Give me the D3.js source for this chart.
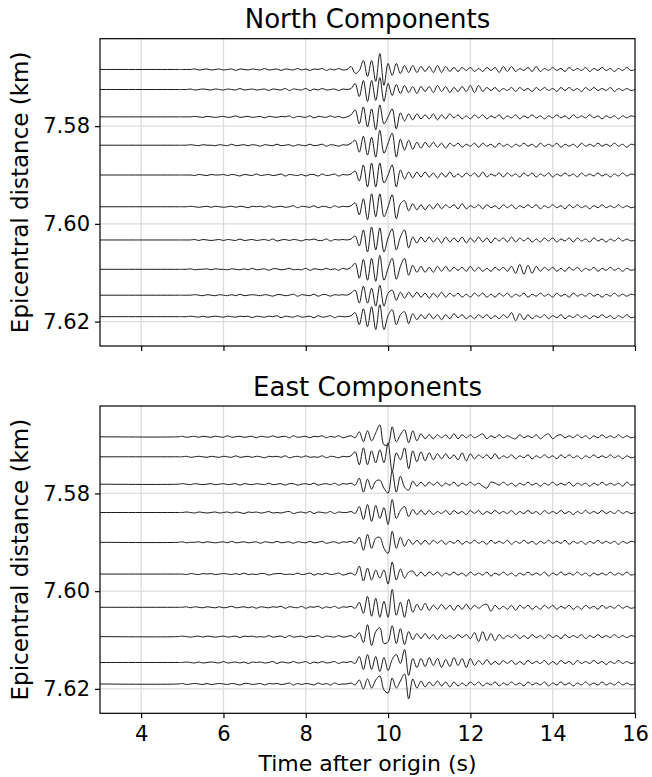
<!DOCTYPE html>
<html>
<head>
<meta charset="utf-8">
<script src="https://cdn.jsdelivr.net/npm/d3@7"></script>
<style>
  body { margin: 0; background: #fff; }
  svg { font-family: "DejaVu Sans", sans-serif; }
</style>
</head>
<body>
<svg id="chart"></svg>
<script>
const width = 652;
const height = 777;

// epicentral distance of each station (km), same for both components
const distances = [7.5684, 7.5725, 7.5781, 7.5839, 7.5900, 7.5965, 7.6033, 7.6093, 7.6146, 7.6190];
const xTicks = [4, 6, 8, 10, 12, 14, 16];
const yTicks = [7.58, 7.60, 7.62];

// traces are flat (zero) at the lead times, then sampled every sampleStep seconds
const leadTimes = [3.0, 4.9];
const sampleStart = 5.0;
const sampleStep = 0.1;

// amplitudes, one row per second (5 s .. 16 s)
const northTraces = [
  [0, 0, 0, 0.5, -0.5, 0, 0.5, -0.5, 0, 0.5,
   -0.5, 0, 0.5, -1, 0.5, 0, -0.5, 0.5, 0, -0.5,
   1, -0.5, 0, 0.5, -1, 0.5, 0, -0.5, 1, -0.5,
   0.5, -1, 0.5, 0, 1, -1, 0.5, -0.5, 1, -0.5,
   0, 3, -4, -1, 9, -7, 9, -12, 16, -16,
   6, -6, 6, -4, 4, -3, 4, -3, 3, -2,
   3, -3, 4, -3, 3, -2, 2, -2, 2, -1,
   2, -2, 1, -2, 2, -1, 2, -3, 3, -2,
   3, -2, 1, -1, 2, -2, 3, -2, 1, -1,
   2, -1, 1, -2, 2, -1, 1, -1, 2, -2,
   1, -1, 2, -1, 1, -2, 1, -1, 2, -1,
   0],
  [0, 0, 0.5, -0.5, 0, 0.5, 0, -0.5, 0.5, 0,
   -0.5, 0.5, 0, -0.5, 1, -0.5, 0, 0.5, -0.5, 0,
   0.5, -1, 0.5, 0, -0.5, 1, -1, 0.5, 0, -0.5,
   1, -1, 0.5, -0.5, 1, -0.5, 0, 0.5, -1, 0.5,
   0, 1, 6, -7, 9, -12, 9, -11, 12, -12,
   6, -6, 5, -4, 4, -3, 3, -4, 3, -2,
   3, -3, 4, -2, 3, -3, 2, -2, 3, -2,
   4, -3, 4, -2, 2, -1, 2, -2, 1, -1,
   2, -2, 2, -1, 1, -2, 2, -1, 2, -1,
   1, -2, 2, -1, 2, -1, 1, -2, 2, -1,
   2, -1, 1, -1, 2, -2, 1, -1, 1, -1,
   0],
  [0, 0, 0, 0.5, 0, -0.5, 0.5, 0, -0.5, 0,
   0.5, -0.5, 0, 1, -0.5, 0, 0.5, -0.5, 0, 0.5,
   -1, 0.5, 0, -0.5, 0.5, 0, 1, -1, 0.5, 0,
   -0.5, 1, -1, 0.5, 0, -0.5, 1, -0.5, 0.5, -1,
   0, 2, 7, -7, 10, -10, 8, -13, 12, -7,
   0, 8, -12, 4, -4, 3, -3, 3, -2, 2,
   -2, 3, -3, 2, -2, 3, -1, 2, -2, 1,
   -2, 2, -1, 2, -2, 1, -1, 2, -2, 1,
   -1, 2, -2, 1, -1, 2, -1, 1, -2, 1,
   -1, 2, -1, 1, -2, 2, -1, 1, -1, 2,
   -1, 1, -2, 1, -1, 1, -2, 1, -1, 1,
   0],
  [0, 0, 0.5, 0, -0.5, 0.5, 0, 0, -0.5, 0.5,
   0, -0.5, 1, -0.5, 0, 0.5, -0.5, 0.5, 0, -1,
   0.5, 0, -0.5, 1, -0.5, 0, 0.5, -1, 0.5, 0,
   -0.5, 1, -0.5, 0, 1, -1, 0.5, 0, -1, 0.5,
   0, 2, 5, -7, 9, -10, 8, -12, 15, -8,
   2, 12, -12, 6, -5, 5, -4, 3, -3, 3,
   -2, 3, -2, 2, -3, 2, -1, 2, -2, 1,
   -1, 2, -2, 2, -1, 1, -2, 2, -1, 1,
   -2, 1, -1, 2, -1, 1, -2, 2, -1, 1,
   -1, 2, -2, 1, -1, 1, -2, 2, -1, 1,
   -1, 2, -1, 1, -1, 2, -1, 1, -2, 1,
   0],
  [0, 0, 0, -0.5, 0.5, 0, -0.5, 0.5, 0, 0,
   0.5, -0.5, 0.5, 0, -1, 0.5, 0, -0.5, 1, -0.5,
   0, 0.5, -0.5, 0, 1, -1, 0.5, 0, -0.5, 0.5,
   -1, 0.5, 0.5, -1, 1, -0.5, 0, 1, -1, 0.5,
   0, 1, 4, -6, 10, -12, 12, -12, 12, -8,
   0, 10, -12, 5, -4, 3, -3, 3, -2, 3,
   -2, 2, -3, 2, -2, 3, -2, 1, -2, 2,
   -1, 2, -2, 3, -2, 1, -1, 2, -2, 2,
   -1, 1, -2, 2, -1, 2, -2, 1, -1, 2,
   -2, 1, -1, 2, -1, 1, -2, 2, -1, 1,
   -1, 2, -1, 1, -2, 1, -1, 2, -1, 1,
   0],
  [0, 0, 0.5, 0, -0.5, 0, 0.5, -0.5, 0.5, 0,
   -0.5, 0, 0.5, -0.5, 0.5, 0, -1, 0.5, 0, 0.5,
   -0.5, 1, -0.5, 0, 0.5, -0.5, 0, 1, -1, 0.5,
   0, -0.5, 1, -1, 0.5, 0, -1, 1, -0.5, 0.5,
   0, 1, 4, -8, 8, -13, 13, -10, 13, -10,
   0, 12, -12, 3, 6, -4, 3, -3, 2, -3,
   2, -2, 3, -2, 2, -1, 2, -2, 3, -2,
   1, -1, 2, -2, 2, -1, 1, -2, 2, -1,
   2, -2, 1, -1, 2, -1, 2, -2, 1, -1,
   2, -1, 1, -2, 2, -1, 2, -1, 1, -2,
   1, -1, 2, -1, 1, -1, 2, -1, 1, -1,
   0],
  [0, 0, 0, 0.5, -0.5, 0.5, 0, -0.5, 0, 0.5,
   -0.5, 0.5, 0, -0.5, 1, -0.5, 0, 0.5, -0.5, 0,
   0.5, -0.5, 1, -1, 0, 0.5, -0.5, 0.5, 0, -1,
   0.5, 0, 1, -0.5, -0.5, 1, -1, 0.5, 0, 0.5,
   0, 1, 4, -6, 10, -12, 13, -10, 12, -12,
   2, 11, -10, 3, 10, -8, 3, -3, 3, -2,
   3, -2, 2, -3, 3, -2, 2, -2, 3, -3,
   2, -2, 3, -2, 2, -3, 2, -1, 2, -2,
   3, -2, 2, -1, 2, -2, 1, -2, 2, -1,
   2, -2, 1, -1, 2, -2, 2, -1, 1, -2,
   2, -1, 1, -2, 1, -1, 2, -1, 1, -1,
   0],
  [0, 0, 0.5, -0.5, 0, 0, 0.5, -0.5, 0.5, 0,
   0, -0.5, 0.5, 0, -0.5, 0.5, -0.5, 1, -0.5, 0,
   0.5, -1, 0.5, 0.5, -0.5, 0, 1, -0.5, 0, -0.5,
   1, -1, 0.5, 0, -0.5, 1, -0.5, 0.5, -1, 1,
   0, 2, 6, -9, 10, -11, 11, -12, 14, -11,
   1, 11, -10, 3, 11, -6, 4, -3, 3, -3,
   2, -3, 3, -2, 3, -2, 2, -1, 2, -2,
   3, -2, 2, -2, 1, -2, 2, -1, 2, -2,
   3, -4, 5, -5, 4, -4, 3, -2, 2, -1,
   2, -2, 1, -2, 2, -1, 2, -2, 1, -1,
   2, -2, 1, -1, 2, -1, 1, -2, 1, -1,
   0],
  [0, 0, 0, 0.5, 0, -0.5, 0.5, 0, -0.5, 0.5,
   0, -0.5, 0.5, -0.5, 1, -0.5, 0, 0.5, 0, -0.5,
   0.5, 0, -1, 0.5, 0.5, -0.5, 0, 1, -1, 0.5,
   0, -0.5, 1, -1, 0.5, 0.5, -1, 0.5, 0, 0.5,
   0, 2, 5, -8, 9, -8, 7, -11, 10, -11,
   2, 5, -5, 3, -3, 3, -2, 3, -2, 2,
   -3, 2, -2, 3, -2, 2, -1, 2, -2, 1,
   -2, 2, -1, 2, -2, 1, -2, 2, -1, 2,
   -2, 1, -1, 2, -2, 1, -1, 2, -1, 1,
   -2, 2, -1, 1, -2, 2, -1, 1, -1, 2,
   -1, 1, -2, 1, -1, 2, -1, 1, -1, 1,
   0],
  [0, 0, 0.5, 0, -0.5, 0.5, -0.5, 0, 0.5, 0,
   -0.5, 0.5, 0, -0.5, 0.5, 0, 0.5, -1, 0.5, 0,
   -0.5, 0.5, 0, 1, -1, 0.5, 0, -0.5, 1, -0.5,
   0, 0.5, -1, 1, -0.5, 0, 1, -1, 0.5, 0,
   0, 1, 4, -8, 8, -10, 10, -13, 12, -13,
   1, 7, -8, 2, 5, -7, 3, -3, 2, -2,
   3, -2, 2, -3, 2, -2, 3, -1, 2, -2,
   1, -2, 2, -1, 2, -2, 1, -2, 2, -1,
   4, -4, 3, -3, 2, -2, 1, -1, 2, -2,
   1, -1, 2, -2, 1, -1, 2, -1, 1, -2,
   1, -1, 2, -1, 1, -2, 1, -1, 2, -1,
   0]
];

const eastTraces = [
  [0.5, -0.5, 0, 0.5, -0.5, 0.5, 0, -0.5, 0.5, 0,
   -0.5, 1, -0.5, 0, 0.5, -0.5, 0, 0.5, -1, 0.5,
   0, -0.5, 1, -0.5, 0, 0.5, -1, 1, -0.5, 0,
   0.5, -1, 0.5, 0, 1, -1, 0.5, -0.5, 1, -1,
   0, 1, -1, 5, -5, 6, -4, 4, 12, -8,
   -8, 10, -5, 2, 7, -6, 6, -4, 3, -2,
   2, -2, 2, -1, 2, -2, 3, -2, 2, -1,
   2, -1, 1, 3, -2, 1, -1, 2, -1, 1,
   -1, -2, 2, -1, 1, -1, 2, -2, 1, 3,
   -2, 1, 2, -1, 1, -1, 2, -1, 1, -2,
   1, -1, 2, -1, 1, -1, 2, -1, 1, -1,
   0],
  [0, 0.5, -0.5, 0, 0.5, 0, -0.5, 0.5, 0, -0.5,
   0.5, 0, -0.5, 1, -0.5, 0, 0.5, -0.5, 0.5, 0,
   -1, 0.5, 0, 0.5, -0.5, 1, -1, 0, 0.5, -0.5,
   1, -0.5, 0, -0.5, 1, -1, 0.5, 0, -1, 0.5,
   0, 1, 5, -8, 9, -8, 6, -6, 7, -6,
   14, -15, 4, -3, 9, -12, 6, -5, 5, -4,
   4, -3, 3, -2, 3, -2, 2, -3, 4, -4,
   3, -2, 2, -1, 2, -2, 3, -2, 1, -1,
   2, -2, 1, -1, 2, -2, 1, -1, 2, -1,
   1, -2, 2, -1, 2, -1, 1, -2, 1, -1,
   2, -1, 1, -1, 2, -1, 1, -2, 1, -1,
   0],
  [0.5, 0, -0.5, 0.5, 0, -0.5, 0, 0.5, -0.5, 0,
   0.5, -0.5, 0, 0.5, -1, 0.5, 0, -0.5, 0.5, 0,
   -0.5, 1, -0.5, 0, 0.5, -1, 0.5, 0.5, -1, 0,
   0.5, -0.5, 1, -1, 0, 0.5, -0.5, 1, -1, 0.5,
   0, 1, -1, 6, -8, 5, -5, 3, 4, -4,
   -9, 13, -8, 8, -3, -6, 3, -2, 2, -2,
   2, -1, 2, -2, 1, -1, 2, -2, 1, -1,
   2, -1, 1, -2, -4, 2, 1, -1, 2, -1,
   1, -2, 1, -1, 2, -1, 1, -2, 1, -1,
   2, -1, 1, -1, 2, -2, 1, -1, 1, -2,
   1, -1, 2, -1, 1, -1, 1, -2, 2, -1,
   0],
  [0, 0.5, 0, -0.5, 0.5, 0, -0.5, 0, 0.5, -0.5,
   0, 0.5, -0.5, 0.5, 0, -1, 0.5, 0, 0.5, -0.5,
   0, 1, -0.5, 0, -0.5, 0.5, 1, -1, 0, 0.5,
   -0.5, 1, -1, 0.5, 0, -0.5, 1, -1, 0.5, 0,
   0, 1, -1, 6, -7, 8, -9, 7, -6, 5,
   -12, 13, -6, 2, 6, -4, 3, -2, 2, -2,
   2, -2, 1, -1, 2, -2, 2, -1, 1, -2,
   2, -1, 2, -2, 1, -1, 2, -1, 1, -1,
   2, -2, 1, -1, 2, -1, 1, -2, 2, -1,
   1, -1, 2, -1, 1, -2, 1, -1, 2, -1,
   1, -1, 2, -1, 1, -1, 2, -1, 1, -1,
   0],
  [0.5, -0.5, 0, 0, 0.5, -0.5, 0.5, 0, -0.5, 0,
   0.5, -0.5, 1, -0.5, 0, 0.5, -0.5, 0, 0.5, -1,
   0.5, 0, -0.5, 1, -0.5, 0, 0.5, -1, 0.5, 0,
   -0.5, 1, -0.5, 0, 1, -1, 0, 0.5, -1, 0.5,
   0, 1, -1, 5, -8, 8, -6, 4, 5, -6,
   -11, 11, -6, 5, -4, 3, -2, 2, -2, 2,
   -2, 2, -1, 2, -2, 1, -1, 2, -2, 1,
   -1, 2, -1, 1, -2, 2, -1, 1, -1, 2,
   -2, 1, -1, 2, -1, 1, -2, 1, -1, 2,
   -1, 1, -1, 2, -2, 1, -1, 1, -2, 1,
   -1, 2, -1, 1, -1, 1, -2, 1, -1, 1,
   0],
  [0, -0.5, 0.5, 0, -0.5, 0.5, 0, 0.5, -0.5, 0,
   0.5, 0, -0.5, 0.5, -0.5, 1, -0.5, 0, -0.5, 0.5,
   0.5, -1, 0, 0.5, 0.5, -0.5, 0, -0.5, 1, -0.5,
   0, 1, -1, 0.5, -0.5, 1, -0.5, 0, 1, -1,
   0, 1, -1, 8, -7, 6, -6, 4, -4, 4,
   -10, 12, -6, 5, -4, 2, 3, -2, 2, -2,
   2, -1, 2, -2, 1, -1, 2, -1, 1, -2,
   2, -1, 1, -1, 2, -2, 1, -1, 2, -1,
   1, -2, 1, -1, 2, -1, 1, -1, 2, -2,
   1, -1, 2, -1, 1, -1, 2, -1, 1, -2,
   1, -1, 1, -1, 2, -1, 1, -1, 2, -1,
   0],
  [0, 0.5, -0.5, 0.5, 0, -0.5, 0.5, 0, -0.5, 0.5,
   -0.5, 0, 1, -0.5, 0, 0.5, -0.5, 0.5, -1, 0.5,
   0, -0.5, 0.5, 0, 1, -1, 0.5, 0, -0.5, 1,
   -1, 0.5, 0, 1, -1, 0.5, -0.5, 1, -1, 0.5,
   0, 1, -1, 5, -6, 11, -9, 9, -10, 6,
   -10, 18, -8, 5, -10, 8, -5, 3, -3, 4,
   -3, 2, -2, 3, -2, 2, -3, 2, -2, 3,
   -2, 2, -1, 2, 3, -4, 2, -2, 1, -2,
   2, -3, 2, -1, 2, -2, 1, -2, 2, -1,
   2, -2, 1, -1, 2, -2, 1, -2, 2, -1,
   1, -2, 2, -1, 1, -1, 2, -1, 1, -1,
   0],
  [0.5, 0, -0.5, 0, 0.5, -0.5, 0.5, 0, -0.5, 0,
   0.5, -0.5, 0, 0.5, -1, 0.5, 0, 0.5, -0.5, 0,
   -0.5, 1, -0.5, 0, 0.5, -1, 1, -0.5, 0, 0.5,
   -1, 0.5, 0, 1, -1, 0.5, 0, -0.5, 1, -0.5,
   0, 1, -1, 4, -6, 12, -9, 5, 9, -7,
   -5, 11, -7, 8, -8, 5, -3, 3, -2, 3,
   -2, 2, -3, 2, -2, 1, -2, 2, -1, 2,
   -2, 4, -5, 5, -4, 3, -4, 2, -2, 1,
   -1, 2, -2, 1, -2, 2, -1, 1, -2, 2,
   -1, 1, -2, 2, -1, 1, -1, 2, -2, 1,
   -1, 2, -1, 1, -1, 2, -1, 1, -1, 1,
   0],
  [0, 0.5, 0, -0.5, 0.5, -0.5, 0, 0.5, 0, -0.5,
   1, -0.5, 0, 0.5, -0.5, 0.5, -1, 0.5, 0, 0.5,
   -0.5, 0, 1, -1, 0.5, 0, -0.5, 1, -0.5, 0,
   1, -1, 0.5, -0.5, 1, -0.5, 0, 1, -1, 0.5,
   0, 1, -1, 6, -7, 8, -7, 6, -9, 5,
   -8, 3, 8, -1, 13, -13, 4, -5, 4, -4,
   5, -3, 4, -5, 3, -4, 5, -3, 4, -5,
   4, -3, 2, -2, 3, -2, 1, -2, 2, -1,
   2, -2, 1, -2, 2, -1, 1, -1, 2, -2,
   1, -2, 2, -1, 1, -2, 2, -1, 1, -1,
   2, -1, 1, -2, 1, -1, 2, -1, 1, -1,
   0],
  [0.5, -0.5, 0, 0.5, 0, -0.5, 0.5, -0.5, 0, 0.5,
   0, -0.5, 0.5, 0, -1, 0.5, 0.5, -0.5, 0, 0.5,
   -1, 0.5, 0, 0.5, -0.5, 0, 1, -1, 0.5, -0.5,
   0.5, 0, -1, 1, -0.5, 0.5, -1, 1, -0.5, 0,
   0, 1, -1, 4, -5, 5, -4, 4, 8, -6,
   -9, 6, -4, 3, 10, -15, 5, -4, 3, -3,
   2, -2, 3, -2, 2, -3, 2, -2, 1, -2,
   2, -1, 2, -2, 1, -1, 2, -2, 1, -1,
   2, -1, 1, -2, 2, -1, 1, -1, 2, -2,
   1, -1, 2, -1, 1, -2, 1, -1, 2, -1,
   1, -1, 2, -1, 1, -1, 2, -1, 1, -1,
   0]
];

const panels = [
  { title: 'North Components', traces: northTraces, top: 38.7, bottom: 346, showX: false },
  { title: 'East Components', traces: eastTraces, top: 406, bottom: 713.3, showX: true }
];

const left = 100;
const right = 635;

const svg = d3.select('#chart')
  .attr('width', width)
  .attr('height', height);

const x = d3.scaleLinear().domain([3, 16]).range([left, right]);
// one amplitude unit is about one pixel of the original trace
const amp = d3.scaleLinear().domain([0, 1]).range([0, 0.000204]);

panels.forEach((p, pi) => {
  const y = d3.scaleLinear().domain([7.5621, 7.6250]).range([p.top, p.bottom]);
  const g = svg.append('g');

  g.append('clipPath').attr('id', 'clip' + pi)
    .append('rect')
    .attr('x', left).attr('y', p.top)
    .attr('width', right - left).attr('height', p.bottom - p.top);

  // grid
  g.append('g').selectAll('line')
    .data(xTicks.filter(d => d < 16)).enter()
    .append('line')
    .attr('x1', d => x(d)).attr('x2', d => x(d))
    .attr('y1', p.top).attr('y2', p.bottom)
    .attr('stroke', '#dcdcdc').attr('stroke-width', 1.3);
  g.append('g').selectAll('line')
    .data(yTicks).enter()
    .append('line')
    .attr('x1', left).attr('x2', right)
    .attr('y1', d => y(d)).attr('y2', d => y(d))
    .attr('stroke', '#dcdcdc').attr('stroke-width', 1.3);

  // traces
  const line = d3.line()
    .x(d => x(d.t))
    .y(d => y(d.dist - amp(d.v)))
    .curve(d3.curveCatmullRom.alpha(0.5));

  g.append('g').attr('clip-path', `url(#clip${pi})`)
    .selectAll('path')
    .data(p.traces).enter()
    .append('path')
    .attr('d', (vals, i) => {
      const lead = leadTimes.map(t => ({ t: t, v: 0, dist: distances[i] }));
      const pts = lead.concat(vals.map((v, k) => ({ t: sampleStart + k * sampleStep, v: v, dist: distances[i] })));
      return line(pts);
    })
    .attr('fill', 'none')
    .attr('stroke', '#1a1a1a')
    .attr('stroke-width', 1);

  // axes
  const xAxis = g.append('g')
    .attr('transform', `translate(0, ${p.bottom})`)
    .call(d3.axisBottom(x).tickValues(xTicks).tickSize(5).tickPadding(8)
      .tickFormat(p.showX ? d3.format('d') : ''));
  const yAxis = g.append('g')
    .attr('transform', `translate(${left}, 0)`)
    .call(d3.axisLeft(y).tickValues(yTicks).tickSize(5).tickPadding(5)
      .tickFormat(d3.format('.2f')));

  [xAxis, yAxis].forEach(a => {
    a.select('.domain').remove();
    a.selectAll('line').attr('stroke', '#000').attr('stroke-width', 1.2);
    a.selectAll('text').attr('fill', '#000')
      .style('font-family', '"DejaVu Sans", sans-serif')
      .style('font-size', '21px');
  });

  g.append('rect')
    .attr('x', left).attr('y', p.top)
    .attr('width', right - left).attr('height', p.bottom - p.top)
    .attr('fill', 'none').attr('stroke', '#000').attr('stroke-width', 1.2);

  g.append('text')
    .attr('x', (left + right) / 2).attr('y', p.top - 10.5)
    .attr('text-anchor', 'middle')
    .style('font-size', '26px')
    .text(p.title);

  g.append('text')
    .attr('transform', `translate(27.5, ${(p.top + p.bottom) / 2}) rotate(-90)`)
    .attr('text-anchor', 'middle')
    .style('font-size', '23px')
    .text('Epicentral distance (km)');
});

svg.append('text')
  .attr('x', (left + right) / 2).attr('y', 771)
  .attr('text-anchor', 'middle')
  .style('font-size', '22px')
  .text('Time after origin (s)');
</script>
</body>
</html>
